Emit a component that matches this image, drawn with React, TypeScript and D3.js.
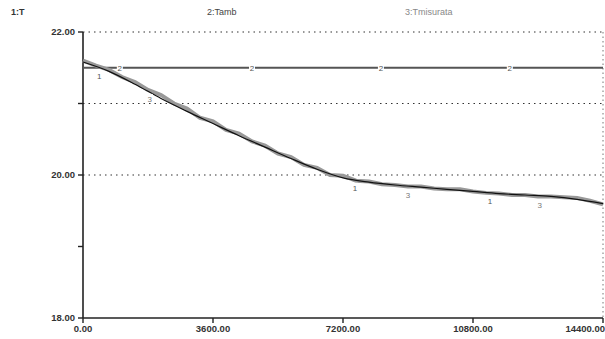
import React from 'react';
import * as d3 from 'd3';

// series 1 : T (model)
const timeModel = [0, 720, 1440, 2160, 2880, 3600, 4320, 5040, 5760, 6480, 7200, 7920, 8640, 9360, 10080, 10800, 11520, 12240, 12960, 13680, 14400];
const tempModel = [21.58, 21.45, 21.27, 21.07, 20.89, 20.72, 20.55, 20.39, 20.23, 20.08, 19.96, 19.9, 19.86, 19.83, 19.8, 19.77, 19.74, 19.72, 19.7, 19.66, 19.6];

// series 2 : Tamb
const timeAmb = [0, 14400];
const tempAmb = [21.5, 21.5];

// series 3 : Tmisurata (measured)
const timeMeas = [0, 360, 720, 1080, 1440, 1800, 2160, 2520, 2880, 3240, 3600, 3960, 4320, 4680, 5040, 5400, 5760, 6120, 6480, 6840, 7200, 7560, 7920, 8280, 8640, 9000, 9360, 9720, 10080, 10440, 10800, 11160, 11520, 11880, 12240, 12600, 12960, 13320, 13680, 14040, 14400];
const tempMeas = [21.6, 21.53, 21.47, 21.37, 21.3, 21.19, 21.12, 21.0, 20.93, 20.8, 20.75, 20.63, 20.58, 20.47, 20.41, 20.3, 20.25, 20.14, 20.1, 20.0, 19.99, 19.92, 19.91, 19.87, 19.86, 19.84, 19.84, 19.81, 19.8, 19.8, 19.77, 19.75, 19.74, 19.72, 19.72, 19.7, 19.7, 19.69, 19.68, 19.64, 19.59];

// curve id labels along the lines
const labels1 = [450, 7530, 11270];
const labels2 = [1020, 4680, 8250, 11820];
const labels3 = [1850, 9000, 12650];

const xTicks = [0, 3600, 7200, 10800, 14400];
const yTicks = [18, 19, 20, 21, 22];
const yLabelTicks = [18, 20, 22];
const yGrid = [20, 21, 22];

const legend = ['1:T', '2:Tamb', '3:Tmisurata'];

export default function App() {
  const W = 605, H = 339;
  const x = d3.scaleLinear().domain([0, 14400]).range([83, 603]);
  const y = d3.scaleLinear().domain([18, 22]).range([318, 32]);

  const model = timeModel.map((t, i) => [t, tempModel[i]] as [number, number]);
  const meas = timeMeas.map((t, i) => [t, tempMeas[i]] as [number, number]);
  const amb = timeAmb.map((t, i) => [t, tempAmb[i]] as [number, number]);

  const lineSmooth = d3.line<[number, number]>().x(d => x(d[0])).y(d => y(d[1])).curve(d3.curveMonotoneX);
  const lineStraight = d3.line<[number, number]>().x(d => x(d[0])).y(d => y(d[1]));

  const modelAt = (t: number) => {
    const i = d3.bisectLeft(timeModel, t);
    if (i <= 0) return tempModel[0];
    const t0 = timeModel[i - 1], t1 = timeModel[i];
    return tempModel[i - 1] + (tempModel[i] - tempModel[i - 1]) * (t - t0) / (t1 - t0);
  };
  const measAt = (t: number) => tempMeas[Math.max(0, d3.bisectRight(timeMeas, t) - 1)];

  const font = 'Liberation Sans, Arial, sans-serif';
  const fmt = d3.format('.2f');

  const marker = (key: string, cx: number, cy: number, txt: string, color: string, dy = 3) => (
    <g key={key}>
      <rect x={cx - 3} y={cy - 5} width={6} height={9} fill="white" />
      <text x={cx} y={cy + dy} fontSize={8} fontFamily={font} textAnchor="middle" fill={color}>{txt}</text>
    </g>
  );

  return (
    <div style={{ position: 'absolute', left: 0, top: 0 }}>
      <svg width={W} height={H} style={{ display: 'block', background: 'white' }}>
        {/* legend */}
        <text x={11} y={15} fontSize={9} fontWeight="bold" fontFamily={font} fill="#333">{legend[0]}</text>
        <text x={207} y={15} fontSize={9} fontFamily={font} fill="#444">{legend[1]}</text>
        <text x={405} y={15} fontSize={9} fontFamily={font} fill="#888">{legend[2]}</text>

        {/* grid */}
        {yGrid.map(v => (
          <line key={'g' + v} x1={x(0)} x2={x(14400)} y1={y(v)} y2={y(v)} stroke="#333" strokeWidth={1.2} strokeDasharray="1.5,4" />
        ))}
        <line x1={x(14400)} x2={x(14400)} y1={y(22)} y2={y(18)} stroke="#777" strokeWidth={1} strokeDasharray="1.5,3" />

        {/* axes */}
        <line x1={x(0)} x2={x(0)} y1={y(22)} y2={y(18)} stroke="#222" strokeWidth={1.6} />
        <line x1={x(0)} x2={x(14400)} y1={y(18)} y2={y(18)} stroke="#222" strokeWidth={1.6} />
        {yTicks.map(v => (
          <line key={'yt' + v} x1={x(0) - 5} x2={x(0)} y1={y(v)} y2={y(v)} stroke="#222" strokeWidth={1.4} />
        ))}
        {yLabelTicks.map(v => (
          <text key={'yl' + v} x={75} y={y(v) + 3} fontSize={9.5} fontWeight="bold" fontFamily={font} textAnchor="end" fill="#333">{fmt(v)}</text>
        ))}
        {xTicks.map((v, i) => (
          <g key={'xt' + v}>
            <line x1={x(v)} x2={x(v)} y1={y(18)} y2={y(18) + 5} stroke="#222" strokeWidth={1.4} />
            <text x={i === xTicks.length - 1 ? W : x(v)} y={332} fontSize={9.5} fontWeight="bold" fontFamily={font}
              textAnchor={i === xTicks.length - 1 ? 'end' : 'middle'} fill="#333">{fmt(v)}</text>
          </g>
        ))}

        {/* series 2 */}
        <path d={lineStraight(amb) || ''} fill="none" stroke="#555" strokeWidth={2} />
        {/* series 3 */}
        <path d={lineStraight(meas) || ''} fill="none" stroke="#999" strokeWidth={4} />
        {/* series 1 */}
        <path d={lineSmooth(model) || ''} fill="none" stroke="#111" strokeWidth={1.2} />

        {labels2.map((t, i) => marker('l2' + i, x(t), y(21.5), '2', '#555'))}
        {labels1.map((t, i) => marker('l1' + i, x(t), y(modelAt(t)) + 8, '1', '#555'))}
        {labels3.map((t, i) => marker('l3' + i, x(t), y(measAt(t)) + 9, '3', '#777'))}
      </svg>
    </div>
  );
}
